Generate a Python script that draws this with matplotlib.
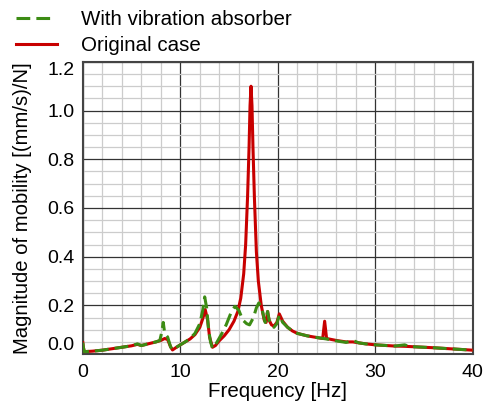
import numpy as np
from matplotlib import pyplot as plt
from matplotlib.lines import Line2D

plt.rcParams['font.family'] = ['Liberation Sans', 'DejaVu Sans']

# Original case (red)
freq_orig = [0, 0.05, 0.15, 1, 2, 3, 4, 5, 5.6, 6.0, 6.5, 7.0, 7.5, 8.0, 8.4, 8.7, 9.0, 9.2,
             9.6, 10.0, 10.5, 11.0, 11.5, 12.0, 12.3, 12.55, 12.8, 13.0, 13.3, 13.6, 14.0,
             14.5, 15.0, 15.5, 15.9, 16.2, 16.5, 16.7, 16.9, 17.05, 17.15, 17.25, 17.35,
             17.45, 17.6, 17.8, 18.0, 18.3, 18.6, 18.8, 18.95, 19.1, 19.35, 19.6, 19.9,
             20.15, 20.5, 21.0, 21.5, 22.0, 23.0, 24.0, 24.6, 24.8, 25.0, 26.0, 27.0, 27.7,
             28.0, 29.0, 30.0, 32.0, 33.0, 34.0, 36.0, 38.0, 40.0]
mob_orig = [0.047, 0.03, 0.01, 0.012, 0.016, 0.022, 0.028, 0.034, 0.04, 0.035, 0.04, 0.045,
            0.05, 0.056, 0.064, 0.06, 0.03, 0.017, 0.028, 0.038, 0.05, 0.062, 0.08, 0.11,
            0.145, 0.183, 0.14, 0.07, 0.028, 0.035, 0.055, 0.075, 0.1, 0.135, 0.175, 0.23,
            0.33, 0.45, 0.65, 0.85, 1.02, 1.10, 1.02, 0.85, 0.64, 0.42, 0.3, 0.2, 0.14,
            0.13, 0.175, 0.14, 0.12, 0.115, 0.13, 0.165, 0.135, 0.11, 0.095, 0.085, 0.075,
            0.068, 0.064, 0.135, 0.064, 0.056, 0.05, 0.05, 0.048, 0.042, 0.038, 0.033,
            0.032, 0.03, 0.026, 0.021, 0.016]

# With vibration absorber (green dashed)
freq_abs = [0, 0.05, 0.15, 1, 2, 3, 4, 5, 5.6, 6.0, 6.5, 7.0, 7.5, 7.9, 8.1, 8.25, 8.4, 8.7,
            9.0, 9.2, 9.6, 10.0, 10.5, 11.0, 11.5, 12.0, 12.3, 12.5, 12.7, 12.9, 13.1, 13.3,
            13.7, 14.2, 14.7, 15.2, 15.6, 16.0, 16.4, 16.8, 17.1, 17.5, 17.8, 18.05, 18.4,
            18.7, 18.95, 19.1, 19.35, 19.6, 19.9, 20.15, 20.5, 21.0, 21.5, 22.0, 23.0, 24.0,
            25.0, 26.0, 27.0, 27.7, 28.3, 29.0, 30.0, 32.0, 33.0, 33.5, 34.0, 36.0, 38.0, 40.0]
mob_abs = [0.047, 0.03, 0.01, 0.012, 0.016, 0.022, 0.028, 0.034, 0.042, 0.035, 0.04, 0.045,
           0.05, 0.056, 0.09, 0.13, 0.085, 0.07, 0.03, 0.017, 0.028, 0.038, 0.05, 0.064,
           0.085, 0.125, 0.18, 0.235, 0.19, 0.1, 0.05, 0.024, 0.045, 0.08, 0.12, 0.17,
           0.196, 0.18, 0.14, 0.125, 0.12, 0.15, 0.19, 0.21, 0.18, 0.13, 0.175, 0.14, 0.12,
           0.11, 0.125, 0.16, 0.13, 0.11, 0.095, 0.085, 0.075, 0.068, 0.062, 0.054, 0.048,
           0.056, 0.046, 0.042, 0.038, 0.033, 0.038, 0.031, 0.03, 0.026, 0.021, 0.016]

red = '#C80000'
green = '#3C8C14'
dash = (0, (4.5, 2))

fig = plt.figure(figsize=(4.87, 4.07), dpi=100)
ax = fig.add_axes([0.170, 0.130, 0.801, 0.718])

ax.plot(freq_orig, mob_orig, color=red, lw=2.2, zorder=3)
ax.plot(freq_abs, mob_abs, color=green, lw=2.2, ls=dash, zorder=4)

ax.set_xlim(0, 40)
ax.set_ylim(0, 1.2)
ax.set_xticks([0, 10, 20, 30, 40])
ax.set_xticks(np.arange(0, 41, 2), minor=True)
ax.set_yticks(np.arange(0, 1.21, 0.2))
ax.set_yticks(np.arange(0, 1.21, 0.05), minor=True)
ax.set_yticklabels(['%.1f' % v for v in np.arange(0, 1.21, 0.2)])
ax.grid(which='major', color='#333333', lw=0.9)
ax.grid(which='minor', color='#CCCCCC', lw=0.9)
ax.set_axisbelow(True)
ax.tick_params(which='both', length=0, labelsize=14)
ax.tick_params(axis='x', pad=7)
ax.tick_params(axis='y', pad=6)
ylabs = ax.get_yticklabels()
ylabs[0].set_va('bottom')
ylabs[-1].set_va('top')
for s in ax.spines.values():
    s.set_color('#444444')
    s.set_linewidth(1.5)

ax.set_xlabel('Frequency [Hz]', fontsize=14.8, labelpad=1)
ax.set_ylabel('Magnitude of mobility [(mm/s)/N]', fontsize=14.6, labelpad=11)

# legend: two dashes for the green handle, as in the original
handles = [Line2D([], [], color=green, lw=2.2, ls=(0, (4.5, 2, 4.5, 20))),
           Line2D([], [], color=red, lw=2.2)]
fig.legend(handles, ['With vibration absorber', 'Original case'], loc='upper left',
           bbox_to_anchor=(-0.006, 1.02), frameon=False, fontsize=14.8, handlelength=2.0,
           handletextpad=1.2, labelspacing=0.32)

plt.savefig('out.png', dpi=100)
